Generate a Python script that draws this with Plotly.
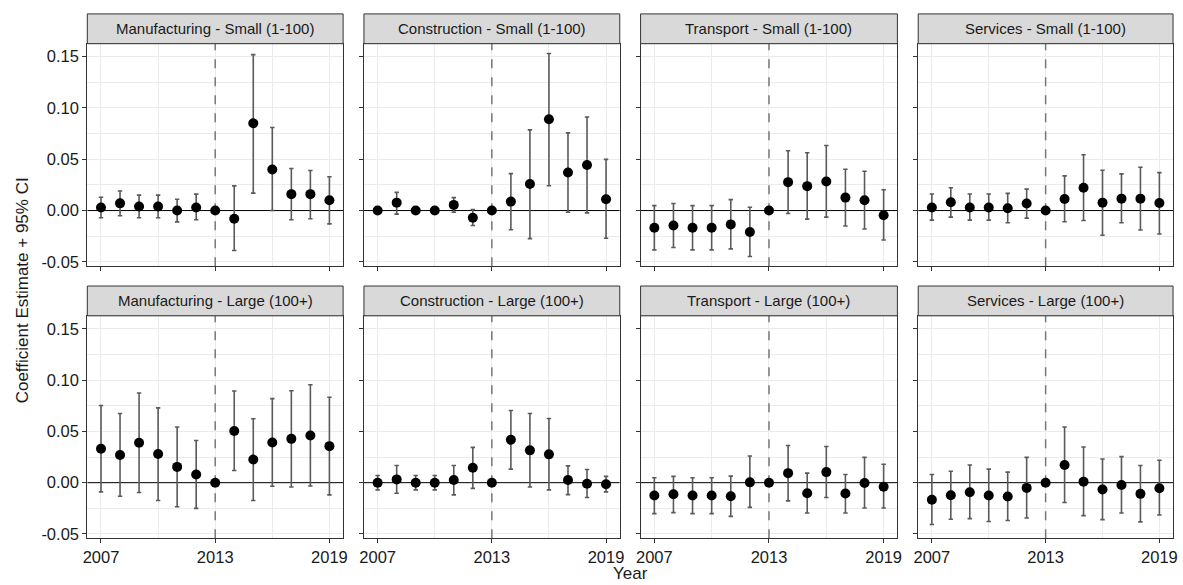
import plotly.graph_objects as go

years = list(range(2007, 2020))

# Point estimates and 95% confidence bounds, one set per sector/size panel
mfg_small_est = [0.003, 0.007, 0.004, 0.004, 0.000, 0.003, 0.0, -0.008, 0.085, 0.040, 0.016, 0.016, 0.010]
mfg_small_lo = [-0.007, -0.005, -0.007, -0.007, -0.011, -0.009, 0.0, -0.039, 0.017, 0.000, -0.009, -0.008, -0.013]
mfg_small_hi = [0.013, 0.019, 0.015, 0.015, 0.011, 0.016, 0.0, 0.024, 0.152, 0.081, 0.041, 0.039, 0.033]

con_small_est = [0.000, 0.0077, 0.000, 0.000, 0.0055, -0.0071, 0.0, 0.0087, 0.0258, 0.0889, 0.037, 0.0444, 0.011]
con_small_lo = [-0.0005, -0.0035, -0.0005, -0.0005, -0.0016, -0.0145, 0.0, -0.0187, -0.0274, 0.0241, -0.0016, -0.0023, -0.027]
con_small_hi = [0.0005, 0.0177, 0.0005, 0.0005, 0.0126, 0.001, 0.0, 0.036, 0.0786, 0.153, 0.0757, 0.0911, 0.0499]

trn_small_est = [-0.0167, -0.0145, -0.0167, -0.0167, -0.0135, -0.0209, 0.0, 0.0277, 0.0238, 0.0283, 0.0126, 0.010, -0.0045]
trn_small_lo = [-0.0383, -0.036, -0.0383, -0.0383, -0.0373, -0.0448, 0.0, -0.0029, -0.0084, -0.0064, -0.0151, -0.018, -0.0287]
trn_small_hi = [0.0048, 0.0068, 0.0048, 0.0048, 0.0106, 0.0032, 0.0, 0.0583, 0.0563, 0.0634, 0.0402, 0.0383, 0.0203]

srv_small_est = [0.0029, 0.008, 0.0029, 0.0029, 0.0023, 0.0068, 0.0, 0.0113, 0.0222, 0.0077, 0.0116, 0.0116, 0.0074]
srv_small_lo = [-0.0093, -0.0064, -0.0093, -0.0093, -0.0119, -0.0074, 0.0, -0.0109, -0.0097, -0.0241, -0.0119, -0.019, -0.0229]
srv_small_hi = [0.0161, 0.0222, 0.0161, 0.0161, 0.0167, 0.0209, 0.0, 0.0338, 0.0544, 0.0393, 0.0357, 0.0422, 0.037]

mfg_large_est = [0.0331, 0.027, 0.0389, 0.0279, 0.0154, 0.008, 0.0, 0.0504, 0.0225, 0.0392, 0.0427, 0.0459, 0.0356]
mfg_large_lo = [-0.009, -0.0132, -0.0096, -0.0173, -0.0234, -0.025, 0.0, 0.0119, -0.0173, -0.0035, -0.0042, -0.0032, -0.0119]
mfg_large_hi = [0.0752, 0.0674, 0.0874, 0.0729, 0.0543, 0.0411, 0.0, 0.0893, 0.0623, 0.0819, 0.0896, 0.0954, 0.0832]

con_large_est = [0.000, 0.0032, 0.000, 0.000, 0.0026, 0.0145, 0.0, 0.0418, 0.0315, 0.0276, 0.0026, -0.001, -0.0016]
con_large_lo = [-0.007, -0.0103, -0.007, -0.007, -0.0119, -0.0055, 0.0, 0.0132, -0.0042, -0.007, -0.0116, -0.0145, -0.009]
con_large_hi = [0.007, 0.0167, 0.007, 0.007, 0.0167, 0.0344, 0.0, 0.0703, 0.0674, 0.0626, 0.0164, 0.0128, 0.0061]

trn_large_est = [-0.0125, -0.0112, -0.0125, -0.0125, -0.0132, 0.0003, 0.0, 0.0093, -0.0103, 0.0103, -0.0106, -0.0003, -0.0039]
trn_large_lo = [-0.0302, -0.0292, -0.0302, -0.0302, -0.0328, -0.0241, 0.0, -0.0177, -0.0295, -0.0145, -0.0295, -0.0247, -0.0247]
trn_large_hi = [0.0048, 0.0061, 0.0048, 0.0048, 0.0064, 0.026, 0.0, 0.0363, 0.0093, 0.0353, 0.008, 0.0247, 0.018]

srv_large_est = [-0.0167, -0.0122, -0.0093, -0.0125, -0.0135, -0.0051, 0.0, 0.0173, 0.001, -0.0067, -0.0022, -0.0109, -0.0055]
srv_large_lo = [-0.0408, -0.0356, -0.035, -0.0379, -0.0369, -0.0344, 0.0, -0.0193, -0.0321, -0.036, -0.0295, -0.0382, -0.0315]
srv_large_hi = [0.008, 0.0112, 0.0173, 0.0132, 0.0103, 0.0247, 0.0, 0.0543, 0.0347, 0.0231, 0.0254, 0.0167, 0.0218]

panel_titles = [
    "Manufacturing - Small (1-100)", "Construction - Small (1-100)",
    "Transport - Small (1-100)", "Services - Small (1-100)",
    "Manufacturing - Large (100+)", "Construction - Large (100+)",
    "Transport - Large (100+)", "Services - Large (100+)",
]
panel_series = [
    (mfg_small_est, mfg_small_lo, mfg_small_hi), (con_small_est, con_small_lo, con_small_hi),
    (trn_small_est, trn_small_lo, trn_small_hi), (srv_small_est, srv_small_lo, srv_small_hi),
    (mfg_large_est, mfg_large_lo, mfg_large_hi), (con_large_est, con_large_lo, con_large_hi),
    (trn_large_est, trn_large_lo, trn_large_hi), (srv_large_est, srv_large_lo, srv_large_hi),
]

x_ticks = [2007, 2013, 2019]
x_minor = [2010, 2016]
y_ticks = [-0.05, 0.0, 0.05, 0.10, 0.15]
y_tick_text = ["-0.05", "0.00", "0.05", "0.10", "0.15"]
y_minor = [-0.025, 0.025, 0.075, 0.125]
policy_year = 2013
x_range = [2006.28, 2019.72]
y_range = [-0.0542, 0.1626]

W, H = 1183, 585
col_px = [(83, 341), (362, 620), (641, 900), (921, 1178)]
row_px = [(44, 268), (318, 542)]      # plot area top/bottom (px from top)
strip_h = 30

FONT = "Liberation Sans, Arial, Helvetica, sans-serif"
GRID = "#EBEBEB"
FRAME = "#333333"
TXT = "#1A1A1A"

fig = go.Figure()
layout = dict(
    width=W, height=H, margin=dict(l=0, r=0, t=0, b=0),
    paper_bgcolor="white", plot_bgcolor="white", showlegend=False,
    font=dict(family=FONT, color=TXT, size=14),
)
shapes, annotations = [], []

for i, (title, (est, lo, hi)) in enumerate(zip(panel_titles, panel_series)):
    r, c = divmod(i, 4)
    k = i + 1
    xs = "" if k == 1 else str(k)
    x0, x1 = col_px[c]
    top, bot = row_px[r]
    xdom = [x0 / W, x1 / W]
    ydom = [1 - bot / H, 1 - top / H]
    xa, ya = "x" + xs, "y" + xs

    # horizontal zero line and dashed policy-year line, under the points
    fig.add_trace(go.Scatter(x=x_range, y=[0, 0], mode="lines", xaxis=xa, yaxis=ya,
                             line=dict(color="black", width=1), hoverinfo="skip"))
    fig.add_trace(go.Scatter(x=[policy_year, policy_year], y=y_range, mode="lines",
                             xaxis=xa, yaxis=ya, hoverinfo="skip",
                             line=dict(color="#777777", width=1.5, dash="dash")))

    fig.add_trace(go.Scatter(
        x=years, y=est, mode="markers", xaxis=xa, yaxis=ya,
        marker=dict(color="black", size=10),
        error_y=dict(type="data", symmetric=False,
                     array=[h - e for h, e in zip(hi, est)],
                     arrayminus=[e - l for e, l in zip(est, lo)],
                     color="#5A5A5A", thickness=1.6, width=2.2),
        hoverinfo="skip",
    ))

    layout["xaxis" + xs] = dict(
        domain=xdom, anchor=ya, range=x_range,
        tickvals=x_ticks, ticktext=[str(v) for v in x_ticks],
        showticklabels=(r == 1), ticks="outside", ticklen=4, tickcolor=FRAME,
        tickfont=dict(size=16.5, color=TXT),
        showgrid=True, gridcolor=GRID, gridwidth=1,
        minor=dict(tickvals=x_minor, showgrid=True, gridcolor=GRID, gridwidth=0.8, ticks=""),
        showline=True, mirror=True, linecolor=FRAME, linewidth=1, zeroline=False,
    )
    layout["yaxis" + xs] = dict(
        domain=ydom, anchor=xa, range=y_range,
        tickvals=y_ticks, ticktext=y_tick_text,
        showticklabels=(c == 0), ticks="outside", ticklen=4, tickcolor=FRAME,
        tickfont=dict(size=16.5, color=TXT),
        showgrid=True, gridcolor=GRID, gridwidth=1,
        minor=dict(tickvals=y_minor, showgrid=True, gridcolor=GRID, gridwidth=0.8, ticks=""),
        showline=True, mirror=True, linecolor=FRAME, linewidth=1, zeroline=False,
    )

    # facet strip
    s_top = top - strip_h
    shapes.append(dict(type="rect", xref="paper", yref="paper",
                       x0=x0 / W, x1=x1 / W, y0=1 - top / H, y1=1 - s_top / H,
                       fillcolor="#D9D9D9", line=dict(color=FRAME, width=1)))
    annotations.append(dict(text=title, xref="paper", yref="paper",
                            x=(x0 + x1) / 2 / W, y=1 - (top - strip_h / 2) / H,
                            xanchor="center", yanchor="middle", showarrow=False,
                            font=dict(size=15, color=TXT)))

annotations.append(dict(text="Coefficient Estimate + 95% CI", xref="paper", yref="paper",
                        x=18 / W, y=0.5, xanchor="center", yanchor="middle",
                        textangle=-90, showarrow=False, font=dict(size=17, color=TXT)))
annotations.append(dict(text="Year", xref="paper", yref="paper",
                        x=631 / W, y=1 - 577 / H, xanchor="center", yanchor="middle",
                        showarrow=False, font=dict(size=17, color=TXT)))

layout["shapes"] = shapes
layout["annotations"] = annotations
fig.update_layout(**layout)
fig.write_html("out.html")
